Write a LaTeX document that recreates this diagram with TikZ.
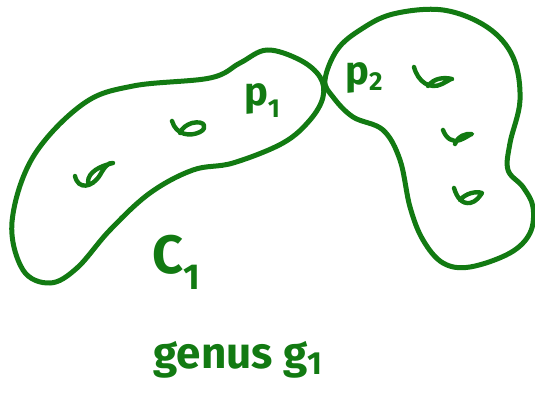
\documentclass[tikz,border=0pt]{standalone}
\usepackage{fontspec}
\setmainfont{Fira Sans}
\definecolor{pen}{RGB}{18,122,18}
\tikzset{
  stroke/.style={draw=pen, line width=5pt, line cap=round, line join=round},
  hole/.style={draw=pen, line width=4.4pt, line cap=round, line join=round},
  label/.style={text=pen, inner sep=0pt, font=\bfseries\fontsize{40}{44}\selectfont}
}
\begin{document}
\begin{tikzpicture}[x=1pt,y=-1pt]
\useasboundingbox (0,0) rectangle (535,401);
% left curve C1
\draw[stroke] plot[smooth cycle, tension=0.6] coordinates {
 (12,222) (33,157) (83,104) (133,86) (210,78) (240,63) (267,50) (300,60)
 (320,77) (323,97) (310,120) (283,143) (233,163) (193,170) (150,193)
 (110,230) (77,268) (50,283) (23,270)};
% right curve
\draw[stroke] plot[smooth cycle, tension=0.6] coordinates {
 (325,80) (337,50) (360,30) (393,14) (443,10) (487,27) (513,57) (520,100)
 (510,143) (508,170) (523,187) (533,207) (530,233) (510,253) (470,267)
 (443,263) (423,240) (410,207) (400,160) (383,130) (353,117) (333,97)};
% handles on the left curve
\draw[hole] (75,176) .. controls (78,190) and (92,188) .. (100,175) .. controls (104,168) and (108,162) .. (113,163) .. controls (100,166) and (88,172) .. (88,182);
\draw[hole] (172,121) .. controls (176,135) and (190,137) .. (200,132) .. controls (208,128) and (205,120) .. (192,123) .. controls (186,125) and (182,128) .. (180,133);
% handles on the right curve
\draw[hole] (414,67) .. controls (418,82) and (430,90) .. (442,84) .. controls (448,81) and (452,78) .. (452,79) .. controls (444,77) and (434,78) .. (428,86);
\draw[hole] (443,130) .. controls (446,138) and (452,143) .. (460,140) .. controls (466,138) and (470,134) .. (472,134) .. controls (466,133) and (458,136) .. (455,144);
\draw[hole] (454,188) .. controls (457,198) and (462,204) .. (470,203) .. controls (476,202) and (480,196) .. (482,193) .. controls (476,191) and (466,193) .. (460,200);
% labels
\node[label] (p1) at (262,101) {p\raisebox{-12pt}{\fontsize{26}{28}\selectfont 1}};
\node[label] (p2) at (364,78) {p\raisebox{-6pt}{\fontsize{26}{28}\selectfont 2}};
\node[label, font=\bfseries\fontsize{54}{58}\selectfont] (c1) at (176,262) {C\raisebox{-16pt}{\fontsize{36}{38}\selectfont 1}};
\node[label, font=\bfseries\fontsize{44}{48}\selectfont] (genus) at (238,360) {genus g\raisebox{-6pt}{\fontsize{32}{34}\selectfont 1}};
\end{tikzpicture}
\end{document}
